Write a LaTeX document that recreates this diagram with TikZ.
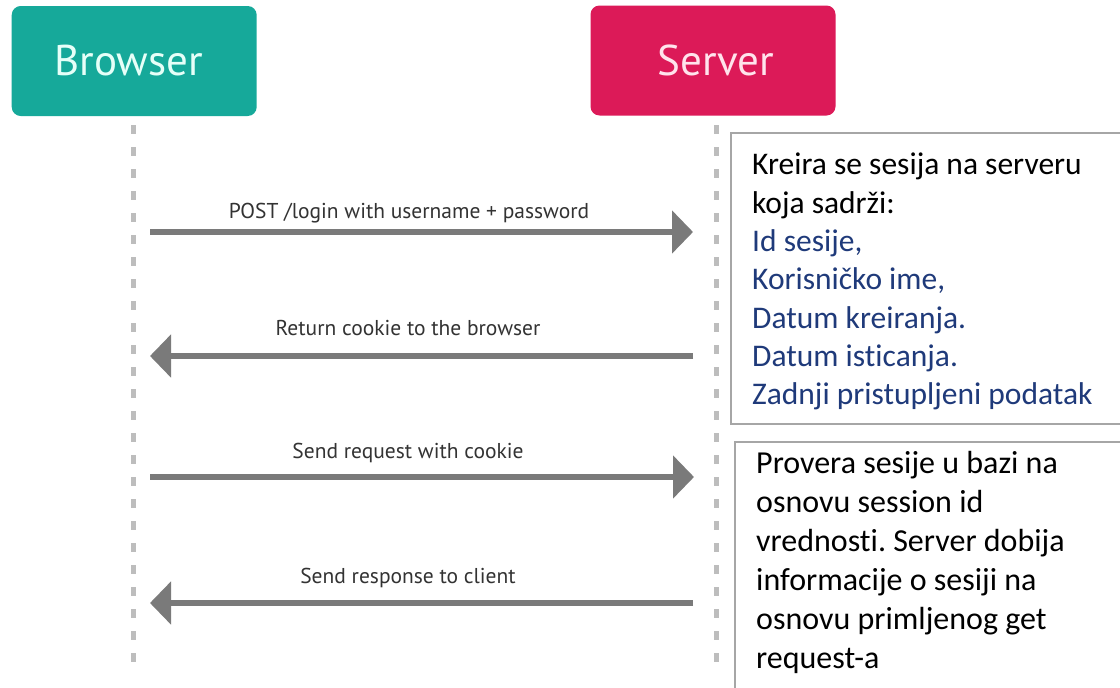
\documentclass[tikz,border=0pt]{standalone}
\usepackage{fontspec}
\setmainfont{Carlito}[Ligatures=NoCommon]
\newfontfamily\headfont{PT Sans}
\usetikzlibrary{arrows.meta}
\frenchspacing

\definecolor{browserteal}{HTML}{16A99A}
\definecolor{servercrimson}{HTML}{DC1A58}
\definecolor{browsertext}{HTML}{E6FFF8}
\definecolor{servertext}{HTML}{FFE3EC}
\definecolor{msggray}{HTML}{7A7A7A}
\definecolor{lifegray}{HTML}{BDBDBD}
\definecolor{labelgray}{HTML}{333333}
\definecolor{boxgray}{HTML}{A6A6A6}
\definecolor{noteblue}{HTML}{1F3A7A}

\tikzset{
  headbox/.style={rounded corners=9pt, minimum width=245pt, minimum height=110pt,
    inner sep=0pt, font=\headfont\fontsize{43}{43}\selectfont},
  lifeline/.style={draw=lifegray, line width=5pt, dash pattern=on 9pt off 13pt},
  msg/.style={draw=msggray, line width=6pt, -{Triangle[length=21pt,width=42pt]}},
  msglabel/.style={anchor=base, inner sep=0pt, text=labelgray,
    font=\headfont\fontsize{21.5}{21.5}\selectfont},
  notebox/.style={draw=boxgray, line width=1.4pt},
  notetext/.style={anchor=north west, inner sep=0pt, align=left}
}

\begin{document}
\begin{tikzpicture}[x=1pt,y=-1pt]
  \clip (0,0) rectangle (1120,688);
  \fill[white] (0,0) rectangle (1120,688);

  % participants
  \node[headbox, fill=browserteal, text=browsertext] (browser) at (134.2,61)
    {\hspace*{-11pt}Browser};
  \node[headbox, fill=servercrimson, text=servertext] (server) at (713,60.5)
    {\hspace*{6pt}Server};

  % lifelines
  \coordinate (btop) at (133.5,125);
  \coordinate (bbot) at (133.5,662);
  \coordinate (stop) at (716.5,125);
  \coordinate (sbot) at (716.5,662);
  \draw[lifeline] (btop) -- (bbot);
  \draw[lifeline] (stop) -- (sbot);

  % message end points
  \coordinate (m1a) at (150,232);   \coordinate (m1b) at (693,232);
  \coordinate (m2a) at (693,356);   \coordinate (m2b) at (150,356);
  \coordinate (m3a) at (150,477);   \coordinate (m3b) at (694,477);
  \coordinate (m4a) at (693,603);   \coordinate (m4b) at (150,603);

  \draw[msg] (m1a) -- (m1b);
  \draw[msg] (m2a) -- (m2b);
  \draw[msg] (m3a) -- (m3b);
  \draw[msg] (m4a) -- (m4b);

  \node[msglabel] (l1) at (409,218) {POST /login with username + password};
  \node[msglabel] (l2) at (408,335) {Return cookie to the browser};
  \node[msglabel] (l3) at (408,458) {Send request with cookie};
  \node[msglabel] (l4) at (408,583) {Send response to client};

  % server-side notes
  \draw[notebox] (731,133) rectangle (1130,424);
  \node[notetext, font=\fontsize{31.5}{38.3}\selectfont] (note1) at (752,153)
    {Kreira se sesija na serveru\\
     koja sadrži:\\
     \textcolor{noteblue}{Id sesije,}\\
     \textcolor{noteblue}{Korisničko ime,}\\
     \textcolor{noteblue}{Datum kreiranja.}\\
     \textcolor{noteblue}{Datum isticanja.}\\
     \textcolor{noteblue}{Zadnji pristupljeni podatak}};

  \draw[notebox] (735,442) rectangle (1130,700);
  \node[notetext, font=\fontsize{32}{39}\selectfont] (note2) at (756,451)
    {Provera sesije u bazi na\\
     osnovu session id\\
     vrednosti. Server dobija\\
     informacije o sesiji na\\
     osnovu primljenog get\\
     request-a};
\end{tikzpicture}
\end{document}
